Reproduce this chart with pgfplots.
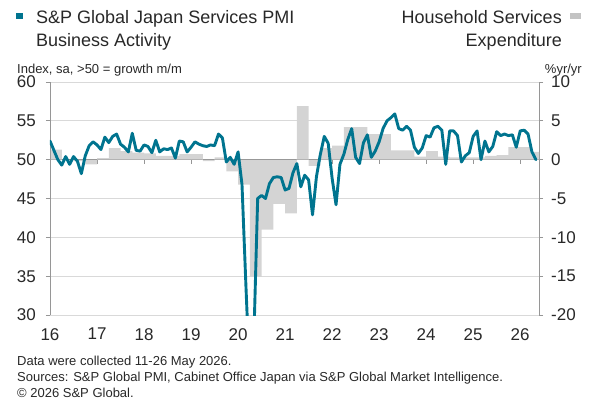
\documentclass[border=0pt]{standalone}
\usepackage{fontspec}
\setmainfont{Liberation Sans}
\usepackage{pgfplots}
\pgfplotsset{compat=1.18}
\definecolor{spteal}{RGB}{0,116,143}
\definecolor{barg}{RGB}{212,212,212}
\definecolor{gridg}{RGB}{217,217,217}
\definecolor{axg}{RGB}{150,150,150}
\definecolor{zerog}{RGB}{120,120,120}
\definecolor{txt}{RGB}{40,40,40}

\pgfplotstableread{
x y
1.5 1.3
4.5 0.0
7.5 -0.2
10.5 -0.6
13.5 0.2
16.5 1.5
19.5 1.1
22.5 0.9
25.5 0.8
28.5 0.5
31.5 0.5
34.5 0.7
37.5 0.7
40.5 -0.2
43.5 0.3
46.5 -1.5
49.5 -3.2
52.5 -15.1
55.5 -9.0
58.5 -5.7
61.5 -6.9
64.5 6.9
67.5 -0.8
70.5 1.5
73.5 1.8
76.5 4.2
79.5 4.2
82.5 3.3
85.5 3.3
88.5 1.2
91.5 1.2
94.5 0.4
97.5 1.1
100.5 0.4
103.5 0.3
106.5 0.3
109.5 0.3
112.5 0.5
115.5 0.6
118.5 1.6
121.5 1.6
124.5 1.0
}\hhexp

\pgfplotstableread{
x y
0 52.4
1 51.2
2 50.0
3 49.3
4 50.4
5 49.4
6 50.4
7 49.8
8 48.2
9 50.5
10 51.8
11 52.3
12 51.9
13 51.3
14 52.9
15 52.2
16 53.0
17 53.3
18 52.0
19 51.6
20 51.0
21 53.4
22 51.2
23 51.1
24 51.9
25 51.7
26 50.9
27 52.5
28 51.0
29 51.4
30 51.3
31 51.5
32 50.2
33 52.4
34 52.3
35 51.0
36 51.6
37 52.3
38 52.0
39 51.8
40 51.7
41 51.9
42 51.8
43 53.3
44 52.8
45 49.7
46 50.3
47 49.4
48 51.0
49 46.8
50 33.8
51 21.5
52 26.5
53 45.0
54 45.4
55 45.0
56 46.9
57 47.7
58 47.8
59 47.7
60 46.1
61 46.3
62 48.3
63 49.5
64 46.5
65 48.0
66 47.4
67 42.9
68 47.8
69 50.7
70 53.0
71 52.1
72 47.6
73 44.2
74 49.4
75 50.7
76 52.6
77 54.0
78 50.3
79 49.5
80 52.2
81 53.2
82 50.3
83 51.1
84 52.3
85 54.0
86 55.0
87 55.4
88 55.9
89 54.0
90 53.8
91 54.3
92 53.8
93 51.6
94 50.8
95 51.5
96 53.1
97 52.9
98 54.1
99 54.3
100 53.8
101 49.4
102 53.7
103 53.7
104 53.1
105 49.7
106 50.5
107 50.9
108 53.0
109 53.7
110 50.0
111 52.4
112 51.0
113 51.7
114 53.6
115 53.1
116 53.3
117 53.1
118 53.2
119 51.6
120 53.7
121 53.8
122 53.3
123 51.0
124 50.0
}\pmi

\begin{document}
\begin{tikzpicture}[x=1pt,y=1pt]
\useasboundingbox (0pt,0pt) rectangle (600pt,-400pt);
% right axis with bars
\begin{axis}[
  at={(50pt,-315pt)}, anchor=south west,
  scale only axis, width=489pt, height=233pt,
  xmin=0, xmax=124.8, ymin=-20, ymax=10,
  axis y line*=right, axis x line*=middle,
  axis line style={draw=axg, line width=0.9pt},
  x axis line style={draw=zerog, line width=1pt},
  xtick={0,12,...,120}, xticklabels={},
  ytick={-20,-15,-10,-5,0,5,10},
  yticklabels={-20,-15,-10,-5,0,5,10},
  tick align=outside, major tick length=4pt,
  tick style={draw=axg, line width=0.9pt},
  ymajorgrids, grid style={draw=gridg, line width=0.8pt},
  yticklabel style={anchor=west, inner sep=0pt, xshift=8pt, text=txt, font=\fontsize{17}{17}\selectfont},
  clip=true,
]
\addplot[ybar, bar width=3, bar shift=0pt, fill=barg, draw=none] table[x=x,y=y] {\hhexp};
\end{axis}
% left axis with PMI line
\begin{axis}[
  at={(50pt,-315pt)}, anchor=south west,
  scale only axis, width=489pt, height=233pt,
  xmin=0, xmax=124.8, ymin=30, ymax=60,
  axis y line*=left, axis x line*=bottom,
  x axis line style={draw=none},
  y axis line style={draw=axg, line width=0.9pt},
  xtick={0,12,...,120},
  xticklabels={16,17,18,19,20,21,22,23,24,25,26},
  ytick={30,35,40,45,50,55,60},
  yticklabels={30,35,40,45,50,55,60},
  tick align=outside, major tick length=4pt,
  ytick style={draw=axg, line width=0.9pt},
  xtick style={draw=none},
  yticklabel style={anchor=east, inner sep=0pt, xshift=-10pt, text=txt, font=\fontsize{17}{17}\selectfont},
  xticklabel style={anchor=north, inner sep=0pt, yshift=-9pt, text=txt, font=\fontsize{17}{17}\selectfont},
]
\addplot[spteal, line width=2.9pt, line join=round, line cap=round] table[x=x,y=y] {\pmi};
\end{axis}
% titles
\fill[spteal] (16pt,-13pt) rectangle (23pt,-18.5pt);
\node[anchor=base west, inner sep=0pt, text=txt, font=\fontsize{18}{18}\selectfont] at (36pt,-23pt) {S\&P Global Japan Services PMI};
\node[anchor=base west, inner sep=0pt, text=txt, font=\fontsize{18}{18}\selectfont] at (36pt,-46pt) {Business Activity};
\fill[barg!80!gray] (570pt,-13pt) rectangle (581pt,-18.5pt);
\node[anchor=base east, inner sep=0pt, text=txt, font=\fontsize{18}{18}\selectfont] at (562pt,-23pt) {Household Services};
\node[anchor=base east, inner sep=0pt, text=txt, font=\fontsize{18}{18}\selectfont] at (562pt,-46pt) {Expenditure};
\node[anchor=base west, inner sep=0pt, text=txt, font=\fontsize{13}{13}\selectfont] at (17pt,-73pt) {Index, sa, >50 = growth m/m};
\node[anchor=base east, inner sep=0pt, text=txt, font=\fontsize{13}{13}\selectfont] at (582pt,-73pt) {\%yr/yr};
% footnotes
\node[anchor=base west, inner sep=0pt, text=txt, font=\fontsize{13}{13}\selectfont] at (17pt,-365.5pt) {Data were collected 11-26 May 2026.};
\node[anchor=base west, inner sep=0pt, text=txt, font=\fontsize{13}{13}\selectfont] at (17pt,-381.5pt) {Sources: S\&P Global PMI, Cabinet Office Japan via S\&P Global Market Intelligence.};
\node[anchor=base west, inner sep=0pt, text=txt, font=\fontsize{13}{13}\selectfont] at (17pt,-397.5pt) {\textcopyright{} 2026 S\&P Global.};
\end{tikzpicture}
\end{document}
